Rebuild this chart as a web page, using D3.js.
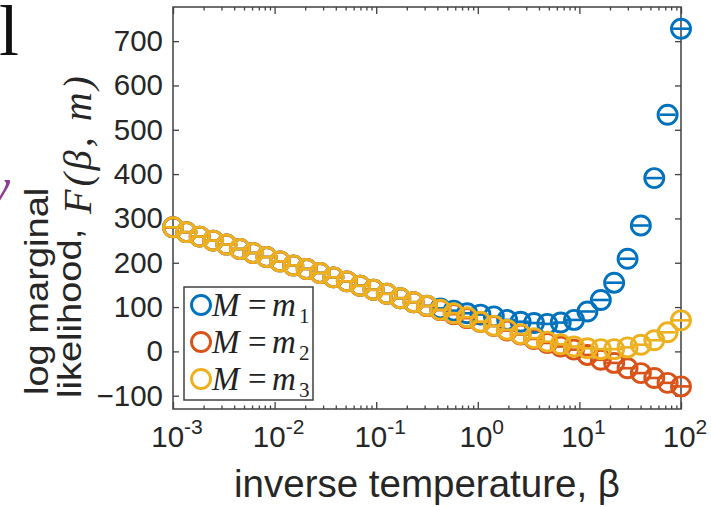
<!DOCTYPE html>
<html>
<head>
<meta charset="utf-8">
<script src="https://cdn.jsdelivr.net/npm/d3@7"></script>
<style>
  html, body { margin: 0; padding: 0; background: #fff; }
  svg { display: block; }
</style>
</head>
<body>
<svg id="chart" width="711" height="507"></svg>
<script>
// ---------------- data ----------------
const logBeta = [-3.000, -2.868, -2.737, -2.605, -2.474, -2.342, -2.211, -2.079, -1.947, -1.816,
                 -1.684, -1.553, -1.421, -1.289, -1.158, -1.026, -0.895, -0.763, -0.632, -0.500,
                 -0.368, -0.237, -0.105, 0.026, 0.158, 0.289, 0.421, 0.553, 0.684, 0.816,
                 0.947, 1.079, 1.211, 1.342, 1.474, 1.605, 1.737, 1.868, 2.000];

const seriesM1 = [280, 269, 259, 250, 241, 231, 222, 213, 203, 194,
                  186, 177, 167, 158, 148, 139, 130, 120, 111, 103,
                  97, 92, 86, 83, 79, 71, 67, 64, 62, 65,
                  71, 90, 116, 155, 209, 284, 391, 534, 728];

const seriesM2 = [280, 269, 259, 250, 241, 231, 222, 213, 203, 194,
                  186, 177, 167, 158, 148, 139, 130, 120, 111, 102,
                  93, 84, 75, 66, 57, 47, 38, 28, 19, 11,
                  4, -8, -19, -26, -38, -49, -60, -71, -79];

const seriesM3 = [280, 269, 259, 250, 241, 231, 222, 213, 203, 194,
                  186, 177, 167, 158, 148, 139, 130, 120, 111, 103,
                  94, 86, 77, 67, 58, 49, 39, 30, 22, 16,
                  11, 7, 5, 5, 9, 15, 25, 43, 70];

const seriesNames = ["m1", "m2", "m3"];
const seriesSub = ["1", "2", "3"];
const seriesColors = ["#0072BD", "#D95319", "#EDB120"];

const yTicks = [-100, 0, 100, 200, 300, 400, 500, 600, 700];
const xTickExps = [-3, -2, -1, 0, 1, 2];
const xLabelText = "inverse temperature, \u03B2";
const yLabelLine1 = "log marginal";
const yLabelLine2 = "likelihood,";
const yLabelMath = "F(\u03B2, m)";

// ---------------- layout ----------------
const L = 173, R = 681, T = 7, B = 409;
const svg = d3.select("#chart");
const x = d3.scaleLog().domain([1e-3, 1e2]).range([L, R]);
const y = d3.scaleLinear().domain([-130, 777]).range([B, T]);

const sans = "'Liberation Sans', Arial, Helvetica, sans-serif";
const serif = "'Liberation Serif', 'Times New Roman', serif";
const axisColor = "#262626";

// fragments of neighbouring panels visible at the left edge
svg.append("text").attr("x", -1).attr("y", 55)
  .attr("font-family", serif).attr("font-size", 72).attr("fill", "#111").text("l");
svg.append("text").attr("x", -13).attr("y", 204)
  .attr("font-family", serif).attr("font-style", "italic").attr("font-size", 52)
  .attr("fill", "#8e3c97").text("y");

// ---------------- axes ----------------
const xs = logBeta.map(v => Math.pow(10, v));
const majors = xTickExps.map(e => Math.pow(10, e));
const minors = [];
xTickExps.slice(0, -1).forEach(e => { for (let k = 2; k <= 9; k++) minors.push(k * Math.pow(10, e)); });

function styleAxis(g) {
  g.select(".domain").remove();
  g.selectAll(".tick line").attr("stroke", "#404040").attr("stroke-width", 1.3);
}

svg.append("g").attr("transform", `translate(${L},0)`)
  .call(d3.axisLeft(y).tickValues(yTicks).tickSize(-6).tickPadding(10).tickFormat(d3.format("d")))
  .call(styleAxis)
  .call(g => g.selectAll("text").attr("font-family", sans).attr("font-size", 29.5).attr("fill", axisColor));
svg.append("g").attr("transform", `translate(${R},0)`)
  .call(d3.axisRight(y).tickValues(yTicks).tickSize(-6).tickFormat(""))
  .call(styleAxis);
svg.append("g").attr("transform", `translate(0,${B})`)
  .call(d3.axisBottom(x).tickValues(majors).tickSize(-7).tickFormat(""))
  .call(styleAxis);
svg.append("g").attr("transform", `translate(0,${B})`)
  .call(d3.axisBottom(x).tickValues(minors).tickSize(-3.5).tickFormat(""))
  .call(styleAxis);
svg.append("g").attr("transform", `translate(0,${T})`)
  .call(d3.axisTop(x).tickValues(majors).tickSize(-7).tickFormat(""))
  .call(styleAxis);
svg.append("g").attr("transform", `translate(0,${T})`)
  .call(d3.axisTop(x).tickValues(minors).tickSize(-3.5).tickFormat(""))
  .call(styleAxis);

// x tick labels 10^e
const xl = svg.append("g");
xTickExps.forEach(e => {
  const t = xl.append("text").attr("x", x(Math.pow(10, e)) + 4).attr("y", 447)
    .attr("text-anchor", "middle").attr("font-family", sans).attr("font-size", 29.5).attr("fill", axisColor);
  t.append("tspan").text("10");
  t.append("tspan").attr("dy", -13).attr("font-size", 21).text(String(e));
});

// frame
svg.append("rect").attr("x", L).attr("y", T).attr("width", R - L).attr("height", B - T)
  .attr("fill", "none").attr("stroke", "#404040").attr("stroke-width", 1.5);

// ---------------- data marks ----------------
const allSeries = [seriesM1, seriesM2, seriesM3];
allSeries.forEach((vals, si) => {
  const g = svg.append("g");
  const pts = vals.map((v, i) => ({ bx: xs[i], v }));
  g.selectAll("line.cap").data(pts).enter().append("line")
    .attr("x1", d => x(d.bx) - 8).attr("x2", d => x(d.bx) + 8)
    .attr("y1", d => y(d.v)).attr("y2", d => y(d.v))
    .attr("stroke", seriesColors[si]).attr("stroke-width", 2.6);
  g.selectAll("circle").data(pts).enter().append("circle")
    .attr("cx", d => x(d.bx)).attr("cy", d => y(d.v)).attr("r", 9.5)
    .attr("fill", "none").attr("stroke", seriesColors[si]).attr("stroke-width", 2.9);
});

// ---------------- legend ----------------
const lg = svg.append("g");
lg.append("rect").attr("x", 184).attr("y", 287).attr("width", 129).attr("height", 113)
  .attr("fill", "#fff").attr("stroke", "#404040").attr("stroke-width", 1.5);
const rowsY = [305, 342, 379];
seriesNames.forEach((n, i) => {
  const cy = rowsY[i];
  lg.append("circle").attr("cx", 201).attr("cy", cy).attr("r", 9.5)
    .attr("fill", "none").attr("stroke", seriesColors[i]).attr("stroke-width", 2.9);
  lg.append("text").attr("x", 212).attr("y", cy + 11).attr("font-family", serif)
    .attr("font-style", "italic").attr("font-size", 33).attr("fill", "#222").text("M");
  lg.append("text").attr("x", 248).attr("y", cy + 11).attr("font-family", serif)
    .attr("font-size", 33).attr("fill", "#222").text("=");
  lg.append("text").attr("x", 272).attr("y", cy + 11).attr("font-family", serif)
    .attr("font-style", "italic").attr("font-size", 33).attr("fill", "#222").text("m");
  lg.append("text").attr("x", 299).attr("y", cy + 18).attr("font-family", serif)
    .attr("font-size", 21).attr("fill", "#222").text(seriesSub[i]);
});

// ---------------- axis titles ----------------
svg.append("text").attr("x", (L + R) / 2).attr("y", 497).attr("text-anchor", "middle")
  .attr("font-family", sans).attr("font-size", 38.5).attr("fill", axisColor).text(xLabelText);

svg.append("text").attr("transform", "translate(48,395) rotate(-90) scale(1.12,1)")
  .attr("font-family", sans).attr("font-size", 34).attr("fill", axisColor).text(yLabelLine1);
svg.append("text").attr("transform", "translate(81,398) rotate(-90) scale(1.12,1)")
  .attr("font-family", sans).attr("font-size", 34).attr("fill", axisColor).text(yLabelLine2);
svg.append("text").attr("transform", "translate(91,214) rotate(-90)")
  .attr("font-family", serif).attr("font-style", "italic").attr("font-size", 40)
  .attr("letter-spacing", 3).attr("fill", axisColor).text(yLabelMath);
</script>
</body>
</html>
